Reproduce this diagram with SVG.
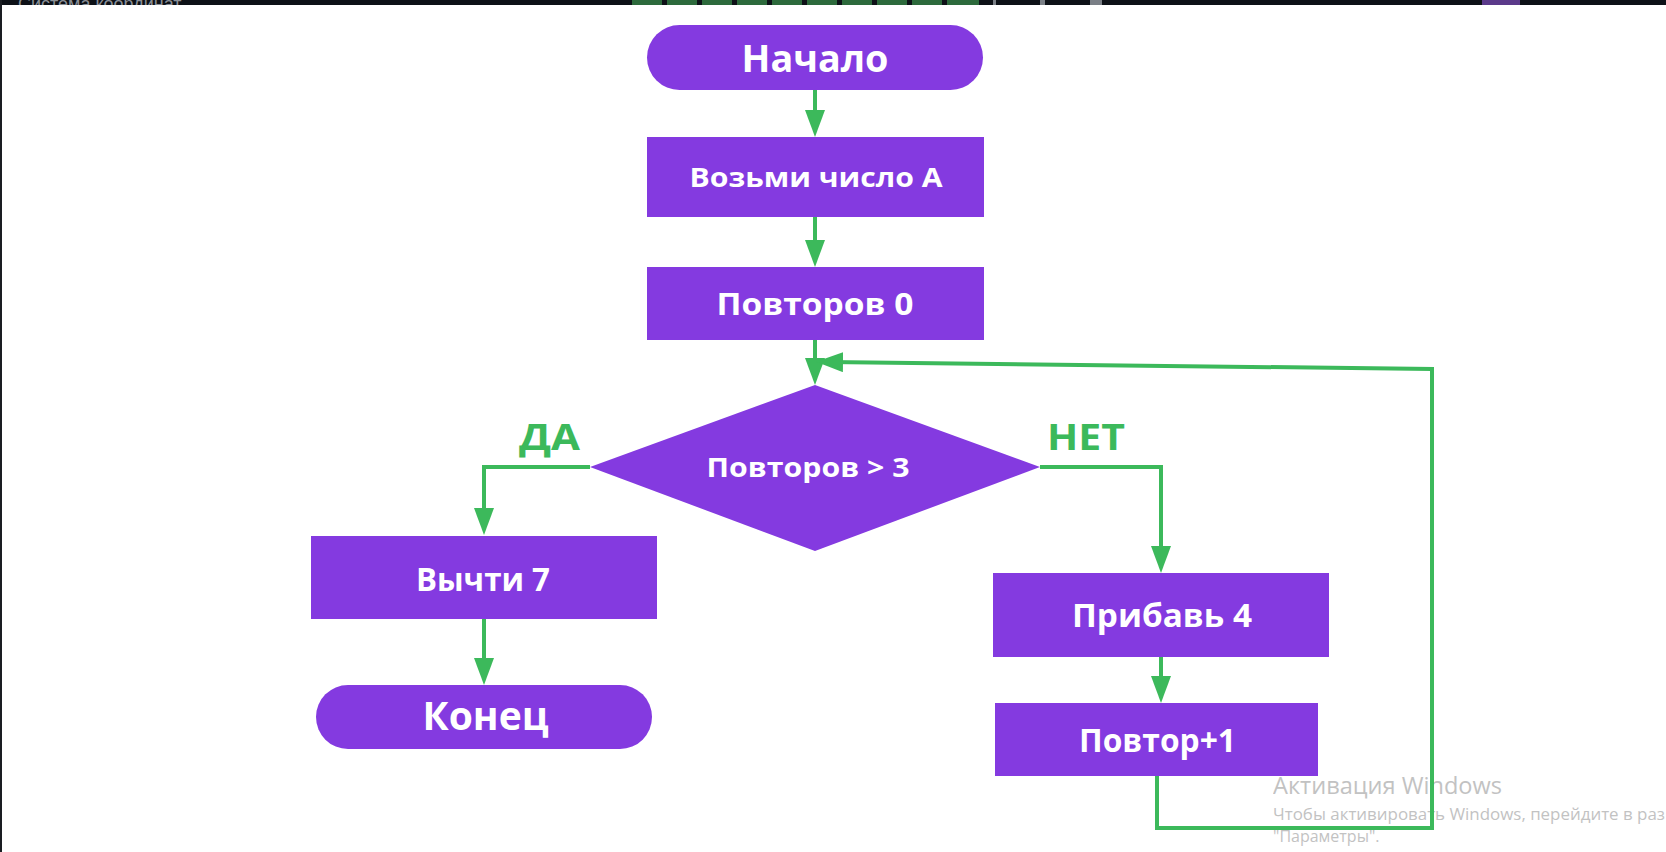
<svg xmlns="http://www.w3.org/2000/svg" width="1666" height="852" viewBox="0 0 1666 852">
  <defs>
    <style>
      .node { fill: #843ae0; }
      .label { font-family: "Open Sans", "Noto Sans", "DejaVu Sans", sans-serif; font-weight: 700; fill: #ffffff; text-anchor: middle; }
      .branch { font-family: "Open Sans", "Noto Sans", "DejaVu Sans", sans-serif; font-weight: 700; fill: #3cb95b; }
      .conn { fill: none; stroke: #3cb95b; stroke-width: 4; stroke-linejoin: miter; marker-end: url(#arrow); }
      .wm { font-family: "Open Sans", "Noto Sans", "DejaVu Sans", sans-serif; font-weight: 400; fill: #9a9a9a; opacity: 0.6; }
    </style>
    <marker id="arrow" markerUnits="userSpaceOnUse" markerWidth="27" markerHeight="20" refX="15" refY="10" orient="auto">
      <path d="M0,0 L27,10 L0,20 Z" fill="#3cb95b"/>
    </marker>
    <clipPath id="barclip"><rect x="0" y="0" width="1666" height="5"/></clipPath>
  </defs>

  <rect x="0" y="0" width="1666" height="852" fill="#ffffff"/>

  <!-- screenshot frame artifacts -->
  <g id="screen-bar">
    <rect x="0" y="0" width="1666" height="5" fill="#0d1117"/>
    <rect x="0" y="0" width="2" height="852" fill="#1a1d22"/>
    <g clip-path="url(#barclip)">
      <text x="18" y="10" font-family="'Liberation Sans', sans-serif" font-size="18" fill="#8a8f96">Система координат</text>
      <g fill="#2d6a3c">
        <rect x="632" y="0" width="30" height="5"/>
        <rect x="667" y="0" width="30" height="5"/>
        <rect x="702" y="0" width="30" height="5"/>
        <rect x="737" y="0" width="30" height="5"/>
        <rect x="772" y="0" width="30" height="5"/>
        <rect x="807" y="0" width="30" height="5"/>
        <rect x="842" y="0" width="30" height="5"/>
        <rect x="877" y="0" width="30" height="5"/>
        <rect x="912" y="0" width="30" height="5"/>
        <rect x="947" y="0" width="32" height="5"/>
      </g>
      <rect x="993" y="0" width="3" height="5" fill="#7a7f86"/>
      <rect x="1040" y="0" width="5" height="5" fill="#7a7f86"/>
      <rect x="1090" y="0" width="12" height="5" fill="#7a7f86"/>
      <rect x="1482" y="0" width="38" height="5" fill="#5b3a8a"/>
    </g>
  </g>

  <!-- Windows activation watermark -->
  <g id="watermark">
    <text class="wm" x="1273" y="794" font-size="24" textLength="229" lengthAdjust="spacingAndGlyphs">Активация Windows</text>
    <text class="wm" x="1273" y="820" font-size="16" textLength="392" lengthAdjust="spacingAndGlyphs">Чтобы активировать Windows, перейдите в раз</text>
    <text class="wm" x="1273" y="842" font-size="16">"Параметры".</text>
  </g>

  <g id="connectors">
    <path class="conn" d="M815,90 V125"/>
    <path class="conn" d="M815,217 V255"/>
    <path class="conn" d="M815,340 V373"/>
    <path class="conn" d="M590,467 H484 V523"/>
    <path class="conn" d="M1040,467 H1161 V561"/>
    <path class="conn" d="M484,619 V673"/>
    <path class="conn" d="M1161,657 V691"/>
    <path class="conn" d="M1157,776 V828 H1432 V369 L828,362"/>
  </g>

  <g id="start">
    <rect class="node" x="647" y="25" width="336" height="65" rx="32.5"/>
    <text class="label" x="815" y="72" font-size="37" textLength="147" lengthAdjust="spacingAndGlyphs">Начало</text>
  </g>
  <g id="take-a">
    <rect class="node" x="647" y="137" width="337" height="80"/>
    <text class="label" x="816" y="187" font-size="26" textLength="253" lengthAdjust="spacingAndGlyphs">Возьми число А</text>
  </g>
  <g id="repeats-0">
    <rect class="node" x="647" y="267" width="337" height="73"/>
    <text class="label" x="815" y="315" font-size="29.5" textLength="197" lengthAdjust="spacingAndGlyphs">Повторов 0</text>
  </g>
  <g id="decision">
    <polygon class="node" points="815,385 1040,467 815,551 590,467"/>
    <text class="label" x="808" y="477" font-size="27" textLength="203" lengthAdjust="spacingAndGlyphs">Повторов &gt; 3</text>
  </g>
  <g id="label-yes">
    <text class="branch" x="519" y="450" font-size="35" textLength="61" lengthAdjust="spacingAndGlyphs">ДА</text>
  </g>
  <g id="label-no">
    <text class="branch" x="1047" y="450" font-size="35" textLength="78" lengthAdjust="spacingAndGlyphs">НЕТ</text>
  </g>
  <g id="subtract-7">
    <rect class="node" x="311" y="536" width="346" height="83"/>
    <text class="label" x="483" y="591" font-size="33" textLength="134" lengthAdjust="spacingAndGlyphs">Вычти 7</text>
  </g>
  <g id="end">
    <rect class="node" x="316" y="685" width="336" height="64" rx="32"/>
    <text class="label" x="485.5" y="730" font-size="39" textLength="126" lengthAdjust="spacingAndGlyphs">Конец</text>
  </g>
  <g id="add-4">
    <rect class="node" x="993" y="573" width="336" height="84"/>
    <text class="label" x="1162" y="627" font-size="32" textLength="180" lengthAdjust="spacingAndGlyphs">Прибавь 4</text>
  </g>
  <g id="repeat-plus-1">
    <rect class="node" x="995" y="703" width="323" height="73"/>
    <text class="label" x="1157.5" y="752" font-size="32" textLength="157" lengthAdjust="spacingAndGlyphs">Повтор+1</text>
  </g>
</svg>
